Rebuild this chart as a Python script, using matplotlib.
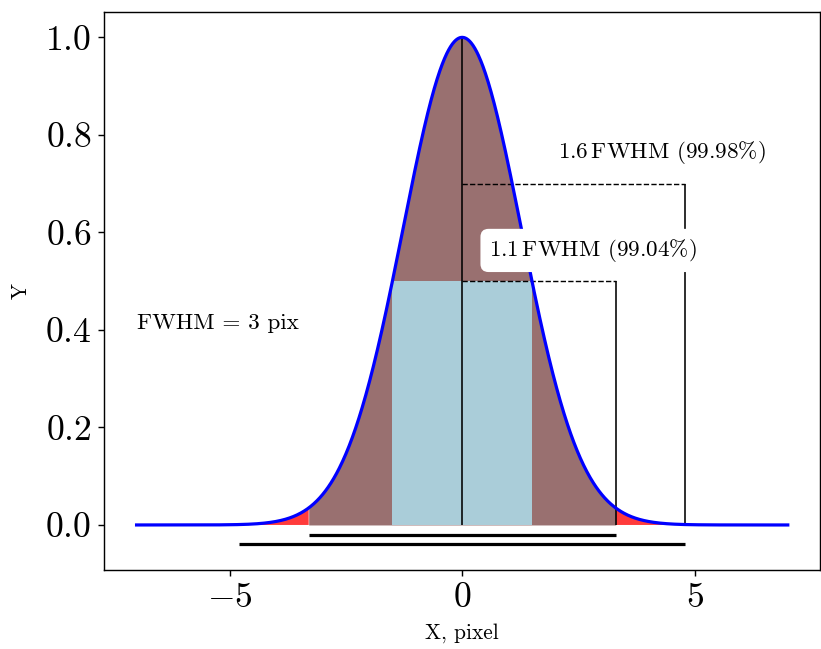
import matplotlib
matplotlib.use("Agg")
import matplotlib.pyplot as plt
import numpy as np

plt.rcParams["font.family"] = "serif"
plt.rcParams["font.serif"] = ["cmr10"]
plt.rcParams["mathtext.fontset"] = "cm"
plt.rcParams["axes.formatter.use_mathtext"] = True

# profile parameters (stated on the chart)
FWHM = 3.0
x_range = [-7.0, 7.0]
widths = [1.1, 1.6]            # aperture radius in FWHM units
fractions = ["99.04", "99.98"]  # enclosed flux, percent
guide_heights = [0.5, 0.7]
bar_levels = [-0.02, -0.04]

sigma = FWHM / (2 * np.sqrt(2 * np.log(2)))
x = np.linspace(x_range[0], x_range[1], 1401)
y = np.exp(-x**2 / (2 * sigma**2))

r1 = widths[0] * FWHM
r2 = widths[1] * FWHM
half = FWHM / 2

DPI = 128.28
fig = plt.figure(figsize=(821 / DPI, 649 / DPI), dpi=DPI)
ax = fig.add_axes([0.1267, 0.122, 0.8725, 0.8595])

ax.fill_between(x, 0, y, where=np.abs(x) >= r1 - 1e-9, color="#ff3b3b", lw=0)
ax.fill_between(x, 0, y, where=np.abs(x) <= r1 + 1e-9, color="#997070", lw=0)
ax.fill_between([-half, half], 0, 0.5, color="#aacdd9", lw=0)

ax.plot(x, y, color="blue", lw=1.8, zorder=5)

ax.vlines(0, 0, 1.0, color="black", lw=0.9, zorder=4)
for r, h in zip([r1, r2], guide_heights):
    ax.vlines(r, 0, h, color="black", lw=0.9, zorder=4)
    ax.hlines(h, 0, r, color="black", lw=0.8, linestyles="--", zorder=4)
for r, lev in zip([r1, r2], bar_levels):
    ax.hlines(lev, -r, r, color="black", lw=1.8)

box = dict(boxstyle="round,pad=0.35", fc="white", ec="none")
ax.text(2.8, 0.563, r"$1.1\,$FWHM (%s%%)" % fractions[0],
        fontsize=13, ha="center", va="center", zorder=6, bbox=box)
ax.text(4.3, 0.764, r"$1.6\,$FWHM (%s%%)" % fractions[1],
        fontsize=13, ha="center", va="center", zorder=6, bbox=box)
ax.text(-5.26, 0.414, "FWHM = 3 pix", fontsize=13, ha="center", va="center")

ax.set_xlabel("X, pixel", fontsize=12, labelpad=5)
ax.set_ylabel("Y", fontsize=12, labelpad=8)
ax.tick_params(labelsize=20)
ax.set_xticks([-5, 0, 5])
ax.set_yticks([0.0, 0.2, 0.4, 0.6, 0.8, 1.0])

fig.savefig("out.png", dpi=DPI, facecolor="white")
